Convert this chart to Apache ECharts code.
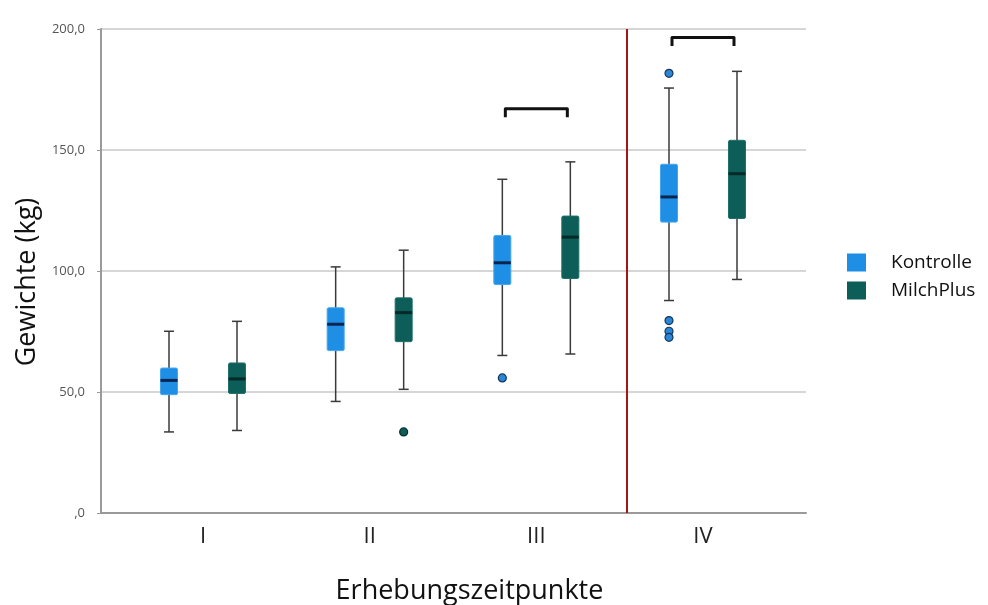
<!DOCTYPE html>
<html>
<head>
<meta charset="utf-8">
<script src="https://cdn.jsdelivr.net/npm/echarts@6/dist/echarts.min.js"></script>
<style>
  html, body { margin: 0; padding: 0; background: #fff; }
  #chart { width: 988px; height: 605px; }
</style>
</head>
<body>
<div id="chart"></div>
<script>
  // Erhebungszeitpunkte
  const categories = ['I', 'II', 'III', 'IV'];
  // [min, Q1, median, Q3, max]
  const kontrolle = [
    [33.5, 48.9, 54.8, 59.9, 75.1],
    [46.1, 67.1, 78.0, 84.8, 101.7],
    [65.1, 94.4, 103.4, 114.7, 137.9],
    [87.8, 120.2, 130.6, 144.1, 175.6]
  ];
  const milchPlus = [
    [34.1, 49.4, 55.4, 62.0, 79.2],
    [51.1, 70.8, 82.8, 88.9, 108.6],
    [65.7, 96.9, 114.0, 122.7, 145.1],
    [96.5, 121.7, 140.2, 154.0, 182.5]
  ];
  // [category index, value]
  const kontrolleOutliers = [[2, 55.8], [3, 181.7], [3, 79.5], [3, 75.1], [3, 72.6]];
  const milchPlusOutliers = [[1, 33.5]];
  // significance brackets: [category index, height]
  const brackets = [[2, 167], [3, 196.5]];
  const yTicks = [0, 50, 100, 150, 200];

  const OFF = 0.204;   // box offset from category centre
  const BR = 0.186;    // half width of bracket
  const SEP = 3.542;   // red separator before IV

  const chart = echarts.init(document.getElementById('chart'));

  function boxRender(fill, stroke, medColor) {
    return function (params, api) {
      const x = api.value(0);
      const pMin = api.coord([x, api.value(1)]);
      const pQ1 = api.coord([x, api.value(2)]);
      const pMed = api.coord([x, api.value(3)]);
      const pQ3 = api.coord([x, api.value(4)]);
      const pMax = api.coord([x, api.value(5)]);
      const hw = 8.5, cw = 5;
      const wStyle = { stroke: '#3a3a3a', lineWidth: 1.5 };
      return {
        type: 'group',
        children: [
          { type: 'line', shape: { x1: pMin[0], y1: pMin[1], x2: pMax[0], y2: pMax[1] }, style: wStyle },
          { type: 'line', shape: { x1: pMin[0] - cw, y1: pMin[1], x2: pMin[0] + cw, y2: pMin[1] }, style: wStyle },
          { type: 'line', shape: { x1: pMax[0] - cw, y1: pMax[1], x2: pMax[0] + cw, y2: pMax[1] }, style: wStyle },
          {
            type: 'rect',
            shape: { x: pQ3[0] - hw, y: pQ3[1], width: hw * 2, height: pQ1[1] - pQ3[1], r: 1.5 },
            style: { fill: fill, stroke: stroke, lineWidth: 1 }
          },
          { type: 'line', shape: { x1: pMed[0] - hw, y1: pMed[1], x2: pMed[0] + hw, y2: pMed[1] }, style: { stroke: medColor, lineWidth: 3 } }
        ]
      };
    };
  }

  function bracketRender(params, api) {
    const c = api.value(0);
    const h = api.value(1);
    const a = api.coord([c - BR, h - 3.5]);
    const b = api.coord([c - BR, h]);
    const d = api.coord([c + BR, h]);
    const e = api.coord([c + BR, h - 3.5]);
    return {
      type: 'polyline',
      shape: { points: [a, b, d, e] },
      style: { stroke: '#111', lineWidth: 3, fill: null, lineJoin: 'round' }
    };
  }

  chart.setOption({
    animation: false,
    textStyle: { fontFamily: 'Open Sans' },
    grid: { left: 101, right: 182, top: 29, bottom: 92, outerBoundsMode: 'none' },
    legend: {
      orient: 'vertical',
      left: 847,
      top: 253,
      padding: 0,
      itemWidth: 19,
      itemHeight: 18,
      itemGap: 9,
      icon: 'rect',
      data: ['Kontrolle', 'MilchPlus'],
      textStyle: { fontSize: 19, color: '#111', padding: [0, 0, 0, 20] }
    },
    xAxis: {
      type: 'value',
      min: 0.388,
      max: 4.618,
      name: 'Erhebungszeitpunkte',
      nameLocation: 'middle',
      nameGap: 65,
      nameTextStyle: { fontSize: 27, color: '#111', padding: [0, 0, 0, 32] },
      axisLine: { show: true, lineStyle: { color: '#9a9a9a', width: 2 } },
      axisTick: { show: false },
      splitLine: { show: false },
      axisLabel: {
        customValues: [1, 2, 3, 4],
        formatter: (v) => categories[Math.round(v) - 1] || '',
        fontSize: 22,
        color: '#222',
        margin: 13
      }
    },
    yAxis: {
      type: 'value',
      min: 0,
      max: 200,
      interval: 50,
      name: 'Gewichte (kg)',
      nameLocation: 'middle',
      nameGap: 56,
      nameTextStyle: { fontSize: 27, color: '#111', padding: [0, 22, 0, 0] },
      axisLine: { show: true, lineStyle: { color: '#9a9a9a', width: 2 } },
      axisTick: { show: true, length: 4, lineStyle: { color: '#9a9a9a' } },
      splitLine: { lineStyle: { color: '#c9c9c9', width: 1.5 } },
      axisLabel: {
        customValues: yTicks,
        formatter: (v) => v === 0 ? ',0' : v.toFixed(1).replace('.', ','),
        fontSize: 13,
        color: '#555',
        margin: 16
      }
    },
    series: [
      {
        name: 'Kontrolle',
        type: 'custom',
        itemStyle: { color: '#1f8fe6' },
        encode: { x: 0, y: [1, 2, 3, 4, 5] },
        renderItem: boxRender('#1f8fe6', '#45a6ef', '#0b2552'),
        data: kontrolle.map((d, i) => [i + 1 - OFF].concat(d)),
        z: 3
      },
      {
        name: 'MilchPlus',
        type: 'custom',
        itemStyle: { color: '#0d5d58' },
        encode: { x: 0, y: [1, 2, 3, 4, 5] },
        renderItem: boxRender('#0d5d58', '#1f716a', '#062a28'),
        data: milchPlus.map((d, i) => [i + 1 + OFF].concat(d)),
        z: 3
      },
      {
        name: 'Kontrolle',
        type: 'scatter',
        symbolSize: 8,
        itemStyle: { color: '#2a86d6', borderColor: '#17375a', borderWidth: 1.2, opacity: 1 },
        data: kontrolleOutliers.map((o) => [o[0] + 1 - OFF, o[1]]),
        z: 4
      },
      {
        name: 'MilchPlus',
        type: 'scatter',
        symbolSize: 8,
        itemStyle: { color: '#0d5d58', borderColor: '#06302d', borderWidth: 1.2, opacity: 1 },
        data: milchPlusOutliers.map((o) => [o[0] + 1 + OFF, o[1]]),
        z: 4
      },
      {
        type: 'custom',
        renderItem: bracketRender,
        encode: { x: 0, y: 1 },
        data: brackets.map((b) => [b[0] + 1, b[1]]),
        silent: true,
        z: 5,
        markLine: {
          silent: true,
          symbol: 'none',
          label: { show: false },
          lineStyle: { color: '#a51515', width: 2, type: 'solid' },
          data: [{ xAxis: SEP }]
        }
      }
    ]
  });
</script>
</body>
</html>
